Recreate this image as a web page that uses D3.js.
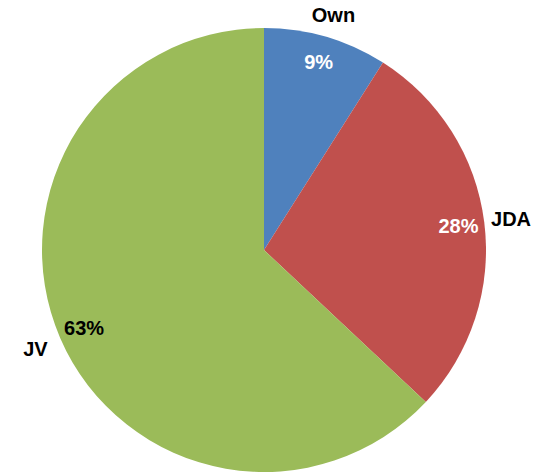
<!DOCTYPE html>
<html><head><meta charset="utf-8">
<script src="https://cdn.jsdelivr.net/npm/d3@7"></script>
<style>body{margin:0;background:#fff}svg{display:block}text{font-family:"Liberation Sans",sans-serif;font-weight:bold;font-size:20px}</style>
</head><body>
<script>
const categories = ["Own", "JDA", "JV"];
const values = [9, 28, 63];
const colors = ["#4F81BD", "#C0504D", "#9BBB59"];
const labelColors = ["#FFFFFF", "#FFFFFF", "#000000"];

const W = 552, H = 474, cx = 264, cy = 250, R = 222;
const svg = d3.select("body").append("svg").attr("width", W).attr("height", H);
const g = svg.append("g").attr("transform", `translate(${cx},${cy})`);
const data = categories.map((c, i) => ({c, v: values[i], i}));
const pie = d3.pie().value(d => d.v).sort(null);
const arcs = pie(data);
const arc = d3.arc().innerRadius(0).outerRadius(R);
g.selectAll("path").data(arcs).join("path")
  .attr("d", arc).attr("fill", d => colors[d.data.i]);
const inner = d3.arc().innerRadius(196).outerRadius(196);
const outer = d3.arc().innerRadius(249).outerRadius(249);
g.selectAll("text.pct").data(arcs).join("text").attr("class", "pct")
  .attr("transform", d => `translate(${inner.centroid(d)})`)
  .attr("text-anchor", "middle").attr("dy", "0.36em")
  .attr("fill", d => labelColors[d.data.i])
  .text(d => d3.format(".0%")(d.data.v / d3.sum(values)));
g.selectAll("text.cat").data(arcs).join("text").attr("class", "cat")
  .attr("transform", d => `translate(${outer.centroid(d)})`)
  .attr("text-anchor", "middle").attr("dy", d => d.data.i === 0 ? "0.55em" : "0.36em")
  .attr("fill", "#000")
  .text(d => d.data.c);
</script>
</body></html>
